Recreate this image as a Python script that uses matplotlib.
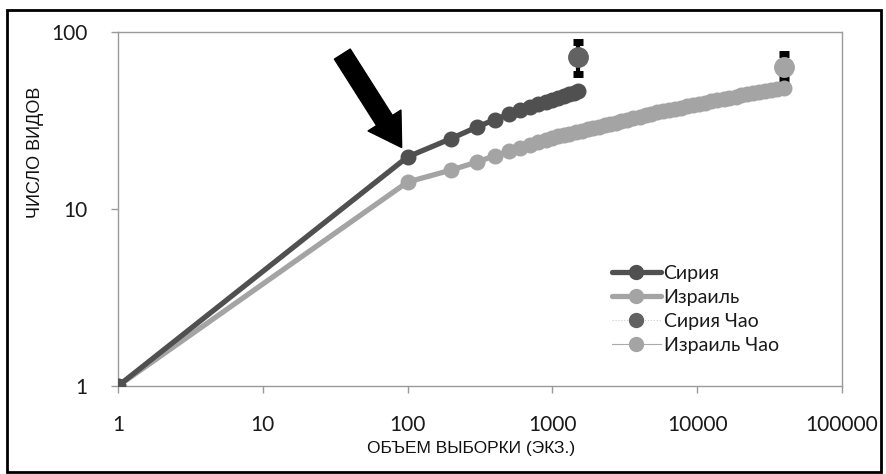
import matplotlib
matplotlib.use("Agg")
import matplotlib.pyplot as plt
from matplotlib.patches import Rectangle

# ---------------- data ----------------
syria_x = [1, 100, 200, 300, 400, 500, 600, 700, 800, 900, 1000,
           1100, 1200, 1300, 1400, 1500]
syria_y = [1, 19.7, 25.0, 29.0, 32.0, 34.3, 36.2, 37.8, 39.2, 40.4, 41.5,
           42.6, 43.6, 44.5, 45.3, 46.2]

israel_x = [1, 100, 200, 300, 400, 500, 600, 700, 800, 900, 1000,
            1100, 1200, 1300, 1450, 1600, 1750, 1900, 2100, 2300, 2500,
            2750, 3000, 3300, 3600, 4000, 4400, 4800, 5300, 5800, 6400,
            7000, 7700, 8500, 9300, 10300, 11300, 12500, 13800, 15200,
            16700, 18400, 20200, 22200, 24400, 26800, 29500, 32400,
            35700, 40000]
israel_y = [1, 14.2, 16.6, 18.4, 20.0, 21.2, 22.2, 23.1, 23.9, 24.6, 25.2,
            25.7, 26.1, 26.5, 27.1, 27.7, 28.2, 28.6, 29.2, 29.7, 30.2,
            30.8, 31.4, 32.0, 32.5, 33.2, 33.9, 34.6, 35.2, 35.7, 36.3,
            36.8, 37.4, 38.0, 38.6, 39.3, 39.8, 40.5, 41.2, 41.8,
            42.5, 43.1, 43.8, 44.5, 45.2, 45.9, 46.4, 47.0,
            47.6, 48.3]

syria_chao_x = [1500]
syria_chao_y = [72.5]
syria_chao_lo = [58.0]
syria_chao_hi = [87.5]

israel_chao_x = [40000]
israel_chao_y = [63.5]
israel_chao_lo = [54.2]
israel_chao_hi = [75.5]

x_ticks = [1, 10, 100, 1000, 10000, 100000]
x_ticklabels = ["1", "10", "100", "1000", "10000", "100000"]
y_ticks = [1, 10, 100]
y_ticklabels = ["1", "10", "100"]

labels = ["Сирия", "Израиль", "Сирия Чао", "Израиль Чао"]
x_label = "ОБЪЕМ ВЫБОРКИ (ЭКЗ.)"
y_label = "ЧИСЛО ВИДОВ"

# ---------------- style ----------------
dark = "#505050"
light = "#a4a4a4"
num_font = ["Lato", "DejaVu Sans"]
cap_font = ["Liberation Sans", "DejaVu Sans"]

W, H = 886, 474
fig = plt.figure(figsize=(W / 100, H / 100), dpi=100)
fig.patch.set_facecolor("white")
ax = fig.add_axes([118 / W, 1 - 386 / H, (842 - 118) / W, (386 - 32) / H])

ax.set_xscale("log")
ax.set_yscale("log")
ax.set_xlim(1, 100000)
ax.set_ylim(1, 100)

ax.plot(israel_x, israel_y, color=light, lw=3.8, marker="o", ms=10.5,
        mec=light, mfc=light, label=labels[1], zorder=3,
        solid_capstyle="round")
ax.plot(syria_x, syria_y, color=dark, lw=3.8, marker="o", ms=10.5,
        mec=dark, mfc=dark, label=labels[0], zorder=4,
        solid_capstyle="round")

# error bars of Chao estimates
ax.errorbar(syria_chao_x, syria_chao_y,
            yerr=[[syria_chao_y[0] - syria_chao_lo[0]],
                  [syria_chao_hi[0] - syria_chao_y[0]]],
            fmt="none", ecolor="black", elinewidth=3, capsize=3.5,
            capthick=5, zorder=5)
ax.errorbar(israel_chao_x, israel_chao_y,
            yerr=[[israel_chao_y[0] - israel_chao_lo[0]],
                  [israel_chao_hi[0] - israel_chao_y[0]]],
            fmt="none", ecolor="black", elinewidth=3, capsize=3.5,
            capthick=5, zorder=2)

ax.plot(syria_chao_x, syria_chao_y, ls=":", lw=0.8, color="#cccccc",
        marker="o", ms=14, mfc="#626262", mec="#626262",
        label=labels[2], zorder=6)
ax.plot(israel_chao_x, israel_chao_y, ls="-", lw=0.8, color="#aaaaaa",
        marker="o", ms=14, mfc=light, mec=light,
        label=labels[3], zorder=6)

# arrow pointing at Syria n=100
ax.annotate("", xy=(syria_x[1], syria_y[1]), xycoords="data",
            xytext=(-47, 74), textcoords="offset points",
            arrowprops=dict(arrowstyle="simple,head_length=2.3,head_width=2.8,tail_width=1.35",
                            color="black", shrinkA=0, shrinkB=8,
                            mutation_scale=10),
            zorder=7)

# axes styling
for s in ["left", "top"]:
    ax.spines[s].set_linestyle((0, (1, 1)))
    ax.spines[s].set_color("#9a9a9a")
    ax.spines[s].set_linewidth(1)
for s in ["right", "bottom"]:
    ax.spines[s].set_color("#9a9a9a")
    ax.spines[s].set_linewidth(1)

ax.set_xticks(x_ticks)
ax.set_xticklabels(x_ticklabels)
ax.set_yticks(y_ticks)
ax.set_yticklabels(y_ticklabels)
ax.minorticks_off()
ax.tick_params(axis="x", which="major", direction="out", length=5,
               width=1, color="#9a9a9a", pad=16, labelsize=15,
               labelcolor="#1a1a1a")
ax.tick_params(axis="y", which="major", direction="out", length=5,
               width=1, color="#9a9a9a", pad=17, labelsize=15,
               labelcolor="#1a1a1a")
for t in ax.get_xticklabels() + ax.get_yticklabels():
    t.set_family(num_font)

fig.text(471 / W, 1 - 449 / H, x_label, ha="center", va="center",
         fontsize=12.5, family=cap_font, color="#111111")
fig.text(35 / W, 1 - 152 / H, y_label, ha="center", va="center",
         rotation=90, fontsize=13, family=cap_font, color="#111111")

handles, labs = ax.get_legend_handles_labels()
order = [labs.index(l) for l in labels]
leg = ax.legend([handles[i] for i in order], [labs[i] for i in order],
                loc="upper left", bbox_to_anchor=(612 / W, 1 - 265 / H),
                bbox_transform=fig.transFigure, frameon=False,
                borderpad=0, borderaxespad=0, handlelength=2.5,
                handletextpad=0.15, labelspacing=0.36,
                prop=dict(family=num_font, size=14))
for h in leg.legend_handles:
    h.set_markersize(10)
for t in leg.get_texts():
    t.set_color("#1a1a1a")

# outer frame
fig.patches.append(Rectangle((7 / W, 2 / H), 874 / W, 462 / H,
                             transform=fig.transFigure, fill=False,
                             edgecolor="black", lw=2))

fig.savefig("out.png", dpi=100, facecolor="white")
